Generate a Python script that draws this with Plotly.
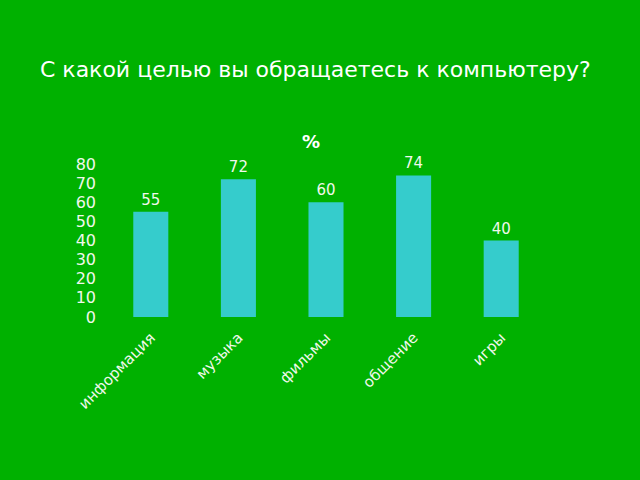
import plotly.graph_objects as go

categories = ["информация", "музыка", "фильмы", "общение", "игры"]
values = [55, 72, 60, 74, 40]
y_ticks = [0, 10, 20, 30, 40, 50, 60, 70, 80]

BG = "#00B100"
BAR = "#35CCCC"
TXT = "#F0F8EC"
FONT = "DejaVu Sans"

fig = go.Figure(
    go.Bar(
        x=categories,
        y=values,
        marker=dict(color=BAR, line=dict(width=0)),
        width=0.4,
        text=[str(v) for v in values],
        textposition="outside",
        textfont=dict(color=TXT, size=15, family=FONT),
        cliponaxis=False,
    )
)

fig.update_layout(
    width=640,
    height=480,
    paper_bgcolor=BG,
    plot_bgcolor=BG,
    margin=dict(l=107, r=95, t=164, b=163),
    showlegend=False,
    font=dict(family=FONT, color=TXT),
    xaxis=dict(
        showgrid=False,
        showline=False,
        zeroline=False,
        tickangle=-45,
        tickfont=dict(size=15, color=TXT, family=FONT),
        ticks="",
        ticklabelstandoff=8,
    ),
    yaxis=dict(
        range=[0, 80],
        tickvals=y_ticks,
        showgrid=False,
        showline=False,
        zeroline=False,
        tickfont=dict(size=16, color=TXT, family=FONT),
        ticks="",
        ticklabelstandoff=10,
    ),
    annotations=[
        dict(
            text="С какой целью вы обращаетесь к компьютеру?",
            xref="paper", yref="paper",
            x=-0.157, y=1.62,
            xanchor="left", yanchor="middle",
            showarrow=False,
            font=dict(size=22, color="#FFFFFF", family=FONT),
        ),
        dict(
            text="<b>%</b>",
            xref="paper", yref="paper",
            x=0.465, y=1.145,
            xanchor="center", yanchor="middle",
            showarrow=False,
            font=dict(size=18, color="#FFFFFF", family=FONT),
        ),
    ],
)

fig.write_html("out.html")
